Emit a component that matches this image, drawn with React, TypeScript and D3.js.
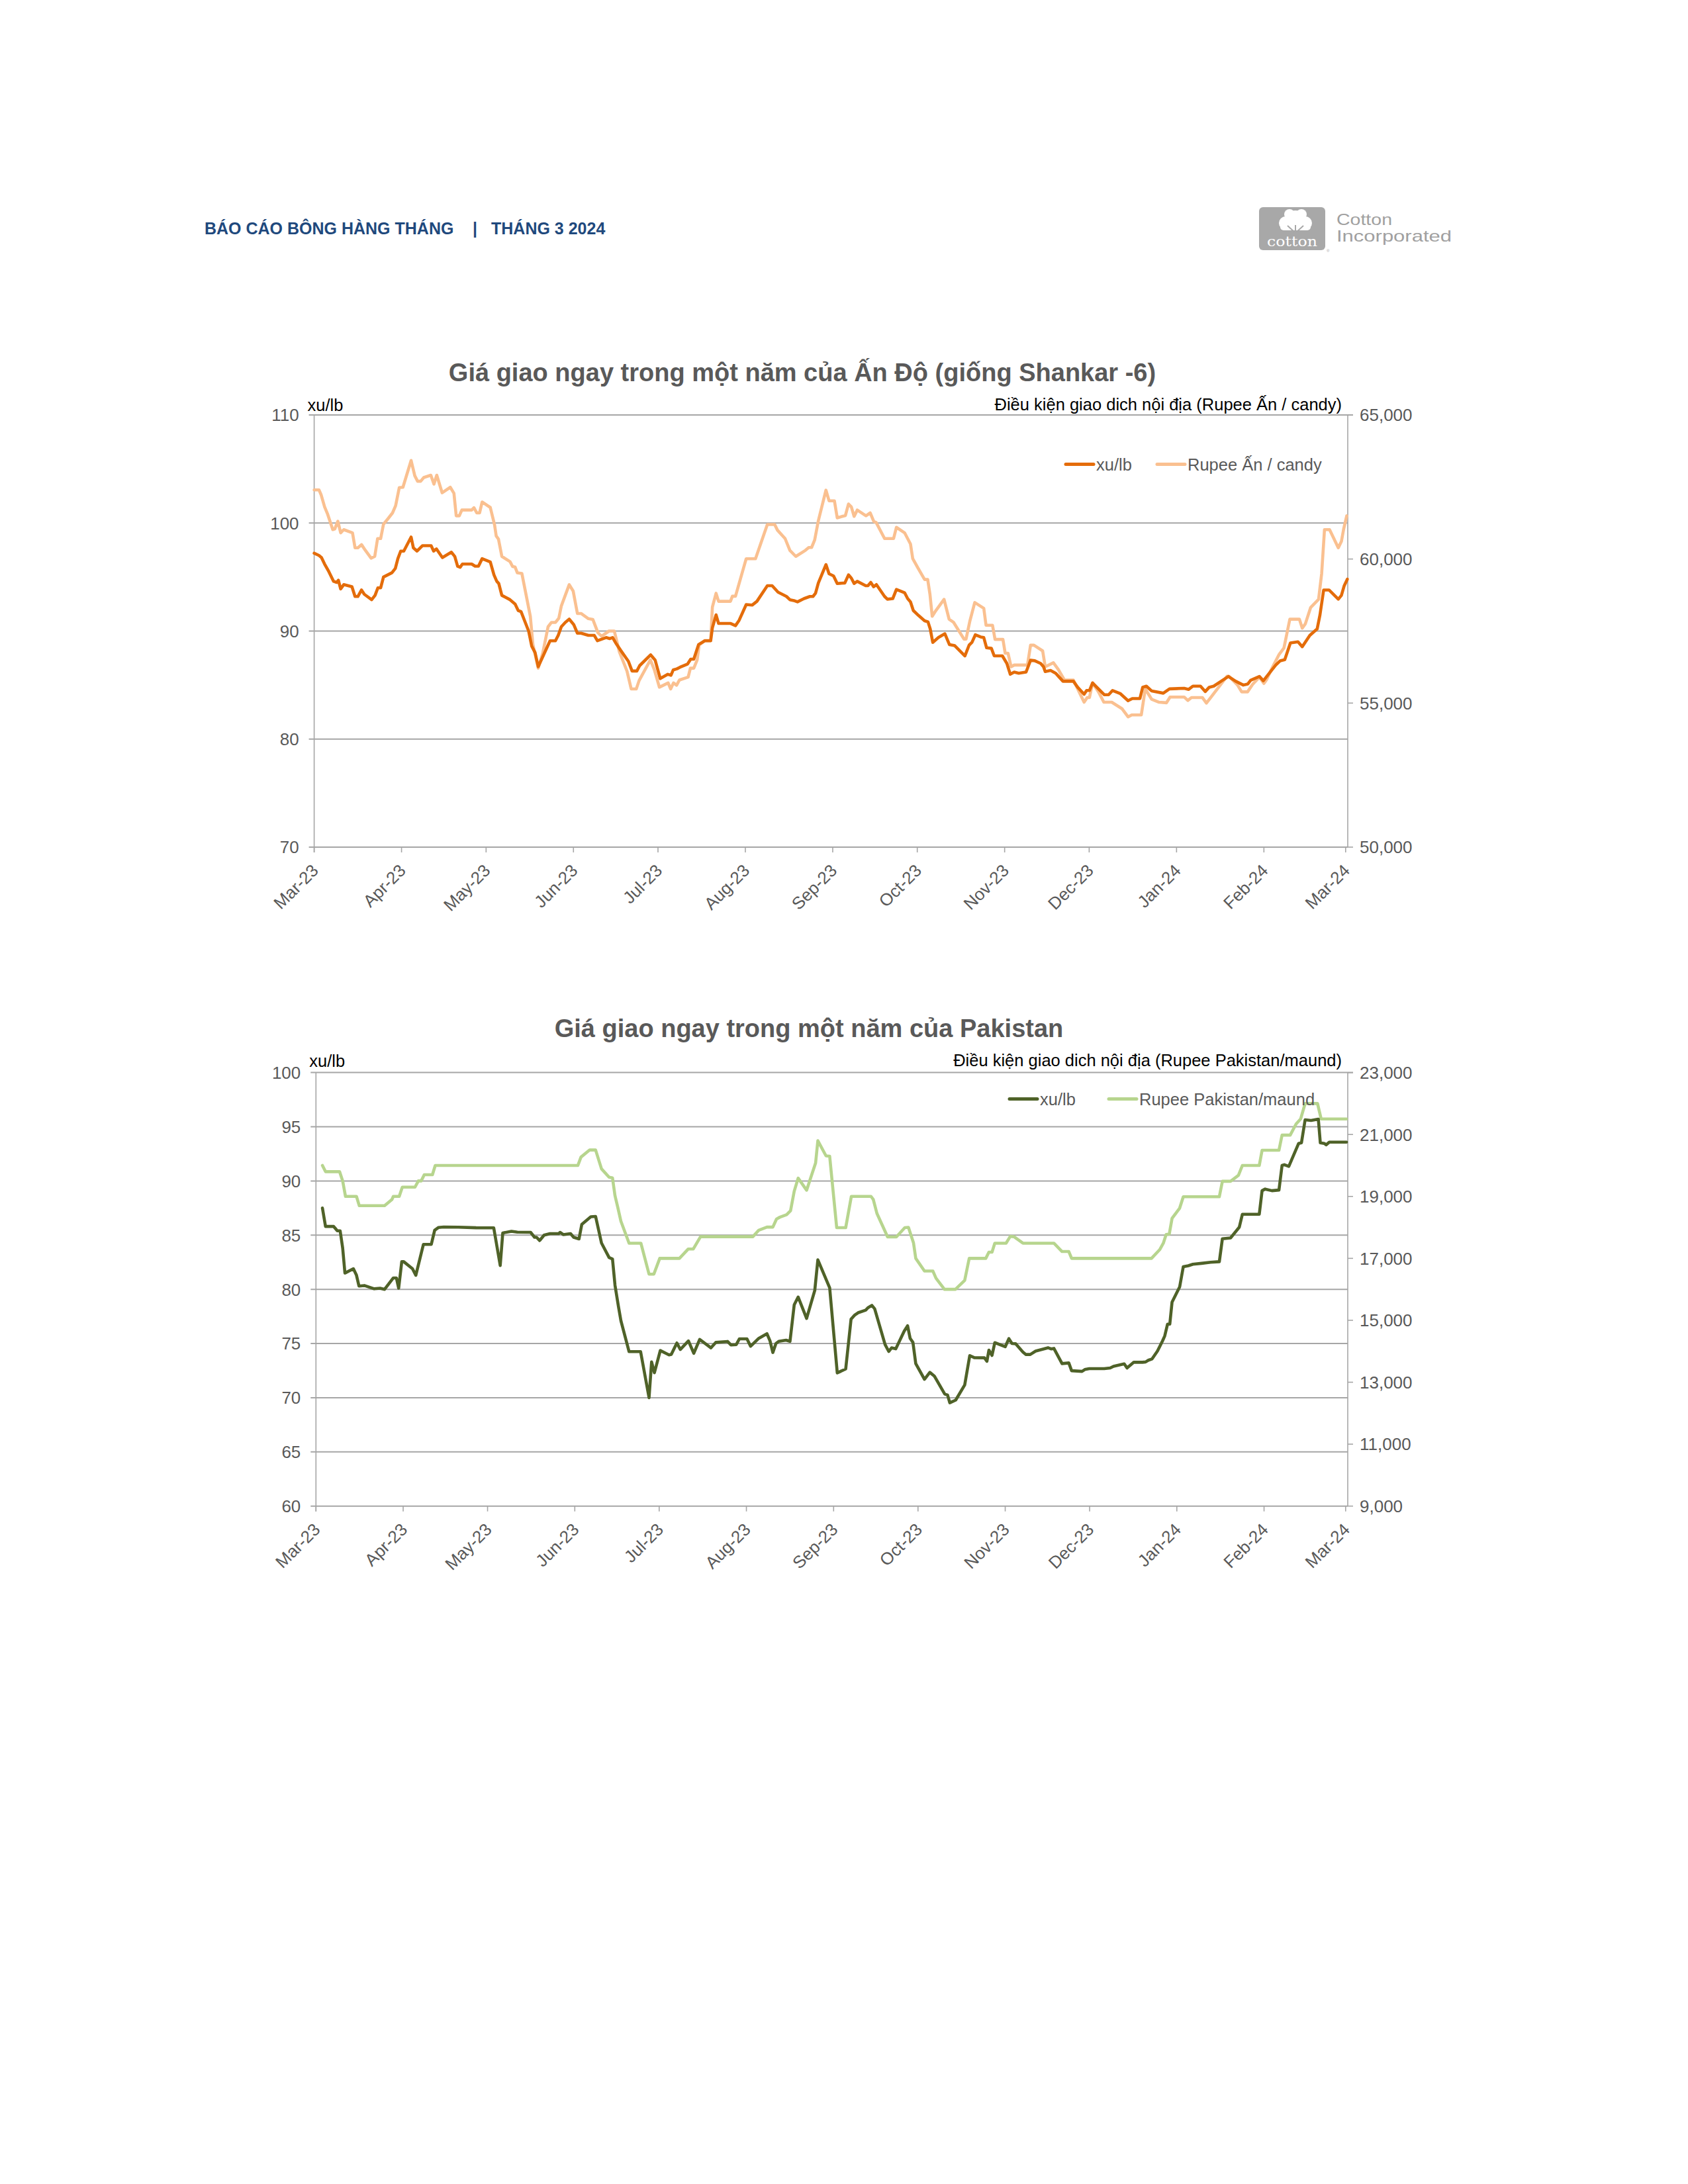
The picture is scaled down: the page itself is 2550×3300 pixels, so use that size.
import React from "react";
import * as d3 from "d3";

// ---------- DATA ----------
const START = Date.UTC(2023, 2, 1);
const END = Date.UTC(2024, 2, 1);
const DAY = 86400000;

const headerLeft = "BÁO CÁO BÔNG HÀNG THÁNG";
const headerRight = "THÁNG 3 2024";

const indiaTitle = "Giá giao ngay trong một năm của Ấn Độ (giống Shankar -6)";
const indiaRightLabel = "Điều kiện giao dich nội địa (Rupee Ấn / candy)";
const indiaLegend = ["xu/lb", "Rupee Ấn / candy"];
const indiaLeftTicks = [70, 80, 90, 100, 110];
const indiaRightTicks = [50000, 55000, 60000, 65000];

const pakTitle = "Giá giao ngay trong một năm của Pakistan";
const pakRightLabel = "Điều kiện giao dich nội địa (Rupee Pakistan/maund)";
const pakLegend = ["xu/lb", "Rupee Pakistan/maund"];
const pakLeftTicks = [60, 65, 70, 75, 80, 85, 90, 95, 100];
const pakRightTicks = [9000, 11000, 13000, 15000, 17000, 19000, 21000, 23000];

// [days since 1 Mar 2023, value]
const indiaCents: [number, number][] = [
  [0, 97.2], [1.7, 97.0], [2.6, 96.8], [3.7, 96.2], [5.2, 95.5], [6.9, 94.6], [8.0, 94.5], [8.6, 94.7],
  [9.4, 93.9], [10.5, 94.3], [13.4, 94.1], [14.5, 93.2], [15.5, 93.2], [16.8, 93.8], [17.8, 93.4],
  [20.4, 92.9], [21.6, 93.3], [22.6, 94.0], [23.6, 94.0], [24.6, 95.0], [27.6, 95.4], [28.8, 95.8],
  [29.7, 96.7], [30.7, 97.4], [31.8, 97.4], [34.4, 98.7], [35.2, 97.7], [36.5, 97.4], [38.4, 97.9],
  [41.5, 97.9], [42.4, 97.4], [43.4, 97.6], [45.5, 96.8], [48.7, 97.3], [49.9, 96.9], [50.9, 96.0],
  [51.8, 95.9], [52.6, 96.2], [55.9, 96.2], [57.1, 96.0], [58.3, 96.0], [59.6, 96.7], [62.5, 96.4],
  [63.8, 95.2], [64.8, 94.6], [65.5, 94.4], [66.6, 93.3], [69.5, 92.9], [71.3, 92.5], [72.4, 91.9],
  [73.4, 91.8], [76.1, 90.0], [77.2, 88.6], [78.4, 88.0], [79.5, 86.7], [81.6, 87.9], [83.7, 89.1],
  [85.6, 89.1], [86.6, 89.6], [87.7, 90.4], [89.1, 90.8], [90.5, 91.1], [92.1, 90.6], [93.4, 89.8],
  [94.7, 89.8], [97.3, 89.6], [99.4, 89.6], [100.5, 89.1], [103.6, 89.4], [104.9, 89.3], [105.9, 89.4],
  [107.0, 88.9], [108.8, 88.2], [111.5, 87.2], [112.8, 86.3], [114.5, 86.3], [115.5, 86.8],
  [119.4, 87.8], [121.0, 87.3], [122.8, 85.6], [125.5, 86.0], [126.6, 85.9], [127.4, 86.4],
  [128.7, 86.5], [129.8, 86.65], [132.5, 86.95], [133.6, 87.4], [134.7, 87.4], [136.4, 88.75],
  [138.6, 89.1], [140.7, 89.1], [141.3, 90.3], [142.6, 91.5], [143.5, 90.7], [147.8, 90.7],
  [149.5, 90.5], [150.8, 91.0], [153.3, 92.45], [155.4, 92.4], [157.1, 92.75], [160.8, 94.2],
  [162.5, 94.2], [164.6, 93.6], [167.6, 93.2], [168.8, 92.9], [170.5, 92.8], [171.5, 92.7],
  [173.8, 93.0], [175.9, 93.2], [177.0, 93.2], [177.9, 93.5], [178.9, 94.45], [181.6, 96.15],
  [182.7, 95.3], [184.3, 95.1], [185.6, 94.4], [188.3, 94.45], [189.6, 95.2], [190.6, 94.9],
  [191.6, 94.4], [192.7, 94.6], [195.7, 94.2], [196.5, 94.2], [197.5, 94.5], [198.5, 94.1],
  [199.5, 94.3], [202.4, 93.2], [203.4, 92.95], [205.3, 93.0], [206.6, 93.85], [209.5, 93.55],
  [210.6, 93.0], [211.6, 92.7], [212.6, 91.9], [214.4, 91.45], [216.6, 90.95], [217.8, 90.85],
  [218.6, 90.2], [219.5, 88.95], [221.5, 89.4], [223.8, 89.75], [225.4, 88.75], [227.3, 88.65],
  [230.9, 87.7], [232.4, 88.7], [233.4, 88.95], [234.6, 89.65], [236.5, 89.45], [237.6, 89.4],
  [238.6, 88.45], [240.3, 88.4], [241.3, 87.7], [244.2, 87.7], [245.8, 87.0], [247.0, 86.0],
  [248.4, 86.2], [250.0, 86.1], [252.6, 86.2], [254.2, 87.3], [255.7, 87.25], [257.8, 87.0],
  [258.8, 86.7], [259.4, 86.25], [261.3, 86.35], [263.1, 86.1], [265.7, 85.35], [269.4, 85.35],
  [270.9, 84.8], [273.2, 84.15], [274.1, 84.5], [275.1, 84.5], [276.2, 85.2], [277.7, 84.8],
  [280.4, 84.1], [281.9, 84.1], [283.3, 84.5], [286.1, 84.2], [288.8, 83.55], [290.3, 83.75],
  [293.0, 83.75], [294.0, 84.8], [295.3, 84.9], [297.2, 84.45], [301.3, 84.25], [303.5, 84.65],
  [308.7, 84.7], [310.3, 84.6], [311.8, 84.9], [314.5, 84.9], [316.2, 84.4], [317.6, 84.8],
  [319.2, 84.9], [321.8, 85.35], [324.4, 85.8], [327.0, 85.35], [329.7, 85.0], [331.3, 85.1],
  [332.3, 85.45], [335.4, 85.8], [336.8, 85.4], [338.6, 86.0], [341.2, 86.85], [342.8, 87.25],
  [344.4, 87.35], [346.4, 88.9], [349.1, 89.0], [350.6, 88.55], [353.3, 89.6], [355.9, 90.2],
  [356.9, 91.5], [358.2, 93.8], [360.1, 93.8], [363.4, 92.95], [364.5, 93.3], [365.5, 94.2],
  [366.6, 94.8],
];

const indiaRupee: [number, number][] = [
  [0, 62400], [1.7, 62400], [2.5, 62220], [3.7, 61810], [4.8, 61550], [6.6, 61020], [7.3, 61040],
  [8.4, 61310], [9.4, 60910], [10.5, 61020], [13.6, 60910], [14.5, 60390], [15.5, 60390],
  [16.8, 60500], [18.1, 60310], [20.2, 60030], [21.5, 60090], [22.5, 60710], [23.6, 60710],
  [24.6, 61210], [26.2, 61400], [27.8, 61600], [28.9, 61850], [30.2, 62480], [31.5, 62490],
  [34.4, 63420], [35.7, 62890], [36.7, 62700], [37.8, 62700], [38.9, 62830], [41.4, 62910],
  [42.5, 62600], [43.5, 62910], [45.4, 62300], [48.3, 62490], [49.6, 62280], [50.4, 61500],
  [51.5, 61500], [52.4, 61700], [55.9, 61700], [56.7, 61780], [57.7, 61600], [58.7, 61600],
  [59.6, 61980], [62.5, 61790], [64.0, 61190], [64.6, 60800], [65.4, 60690], [66.6, 60090],
  [69.5, 59910], [70.4, 59740], [71.3, 59720], [72.1, 59520], [73.7, 59500], [76.7, 58010],
  [77.6, 57040], [79.5, 56210], [81.1, 56730], [83.0, 57650], [84.2, 57800], [85.6, 57800],
  [86.8, 57940], [87.7, 58370], [90.5, 59110], [91.9, 58890], [93.4, 58110], [94.7, 58110],
  [97.3, 57930], [98.9, 57900], [100.7, 57440], [102.0, 57320], [104.6, 57500], [106.5, 57500],
  [108.3, 56780], [111.0, 56110], [112.5, 55490], [114.3, 55490], [115.3, 55780], [119.3, 56500],
  [120.7, 56160], [122.5, 55550], [125.6, 55700], [126.5, 55490], [127.5, 55700], [128.6, 55620],
  [129.6, 55800], [132.7, 55900], [133.5, 56210], [134.7, 56210], [135.9, 56500], [136.6, 57010],
  [138.6, 57170], [140.7, 57170], [141.3, 58330], [142.6, 58810], [143.5, 58530], [147.7, 58530],
  [148.4, 58710], [149.5, 58710], [153.3, 60010], [156.6, 60010], [160.8, 61200], [163.4, 61200],
  [164.4, 61000], [167.1, 60710], [168.8, 60300], [170.9, 60090], [174.3, 60300], [175.5, 60400],
  [176.5, 60400], [177.6, 60660], [178.9, 61330], [181.6, 62390], [182.7, 62020], [184.6, 62020],
  [185.6, 61430], [188.5, 61510], [189.6, 61910], [190.6, 61810], [191.6, 61480], [192.7, 61700],
  [195.8, 61500], [197.3, 61600], [198.6, 61300], [199.4, 61270], [202.4, 60710], [205.6, 60710],
  [206.6, 61100], [209.5, 60910], [211.6, 60520], [212.4, 60010], [214.3, 59680], [216.6, 59290],
  [217.7, 59290], [218.5, 58780], [219.3, 58010], [220.6, 58210], [223.5, 58600], [225.3, 57910],
  [226.9, 57800], [230.6, 57220], [231.3, 57220], [232.7, 57860], [234.4, 58490], [237.6, 58290],
  [238.4, 57700], [240.7, 57700], [241.6, 57210], [244.4, 57210], [245.2, 56730], [246.2, 56730],
  [247.3, 56260], [248.4, 56320], [253.1, 56320], [254.2, 57010], [255.4, 57010], [258.5, 56810],
  [259.4, 56260], [262.3, 56400], [264.1, 56160], [266.2, 55800], [269.4, 55800], [273.2, 55030],
  [274.3, 55190], [275.1, 55190], [276.2, 55700], [278.3, 55390], [280.2, 55030], [283.0, 55030],
  [286.7, 54800], [288.8, 54520], [290.1, 54590], [293.5, 54590], [294.9, 55490], [297.2, 55130],
  [299.8, 55030], [302.4, 55010], [303.7, 55210], [308.7, 55210], [310.0, 55090], [311.3, 55190],
  [315.2, 55190], [316.6, 55000], [318.1, 55190], [322.1, 55700], [323.9, 55930], [324.6, 55930],
  [327.6, 55630], [329.1, 55390], [331.2, 55390], [333.0, 55650], [335.4, 55900], [337.0, 55680],
  [338.0, 55820], [339.6, 56160], [342.4, 56690], [344.1, 56910], [346.2, 57910], [349.6, 57910],
  [350.6, 57600], [351.7, 57750], [353.6, 58320], [356.4, 58600], [357.5, 59500], [358.5, 61020],
  [360.3, 61020], [363.4, 60390], [364.5, 60610], [365.3, 61040], [366.4, 61500],
];

const pakCents: [number, number][] = [
  [2.3, 87.5], [3.4, 85.8], [6.3, 85.8], [7.6, 85.4], [8.6, 85.4], [9.5, 83.8], [10.3, 81.5],
  [13.3, 81.9], [14.4, 81.3], [15.3, 80.3], [17.2, 80.35], [20.7, 80.05], [22.8, 80.1], [24.4, 80.0],
  [27.5, 81.05], [28.6, 81.05], [29.4, 80.1], [30.5, 82.55], [31.2, 82.55], [34.3, 81.9], [35.5, 81.3],
  [38.2, 84.15], [41.0, 84.15], [42.2, 85.45], [43.5, 85.7], [45.4, 85.75], [50.6, 85.73],
  [56.9, 85.68], [63.2, 85.67], [65.5, 82.2], [66.4, 85.2], [69.5, 85.35], [71.6, 85.28],
  [76.3, 85.26], [77.7, 84.8], [78.4, 84.8], [79.5, 84.5], [81.1, 85.0], [83.2, 85.14], [86.3, 85.14],
  [86.8, 85.26], [87.9, 85.05], [90.5, 85.14], [91.6, 84.8], [93.5, 84.65], [94.5, 86.0], [97.7, 86.7],
  [99.4, 86.73], [101.5, 84.27], [104.2, 82.93], [105.4, 82.8], [106.3, 80.37], [107.5, 78.44],
  [108.4, 77.1], [111.3, 74.25], [115.4, 74.25], [118.4, 70.0], [119.3, 73.3], [120.3, 72.3],
  [122.4, 74.35], [125.5, 73.95], [126.3, 74.0], [128.3, 75.05], [129.5, 74.45], [132.4, 75.24],
  [134.3, 74.1], [136.4, 75.38], [140.4, 74.6], [142.1, 75.1], [146.3, 75.19], [147.5, 74.87],
  [149.4, 74.9], [150.5, 75.43], [153.2, 75.43], [154.5, 74.75], [157.4, 75.48], [160.3, 75.91],
  [161.4, 75.24], [162.4, 74.17], [163.5, 75.0], [164.5, 75.2], [167.1, 75.31], [168.5, 75.2],
  [170.0, 78.57], [171.4, 79.29], [174.4, 77.31], [177.3, 79.89], [178.4, 82.72], [182.6, 80.14],
  [185.3, 72.29], [188.3, 72.65], [190.2, 77.24], [191.4, 77.6], [192.7, 77.84], [195.4, 78.08],
  [196.2, 78.3], [197.6, 78.52], [198.6, 78.2], [202.3, 74.9], [203.6, 74.27], [204.6, 74.6],
  [206.1, 74.51], [209.1, 76.15], [210.3, 76.64], [211.2, 75.48], [212.2, 75.1], [213.2, 73.15],
  [216.3, 71.7], [218.2, 72.34], [219.8, 72.0], [223.5, 70.34], [224.5, 70.25], [225.3, 69.53],
  [227.4, 69.78], [230.6, 71.18], [232.4, 73.89], [234.0, 73.7], [237.6, 73.68], [238.5, 73.36],
  [239.2, 74.39], [240.3, 73.9], [241.3, 75.08], [245.0, 74.7], [246.3, 75.45], [247.4, 75.0],
  [248.7, 74.98], [251.3, 74.21], [252.3, 73.99], [253.9, 73.99], [255.8, 74.3], [260.2, 74.61],
  [261.3, 74.5], [262.3, 74.55], [265.2, 73.15], [267.6, 73.21], [268.6, 72.49], [272.3, 72.43],
  [273.3, 72.6], [274.9, 72.68], [280.2, 72.68], [282.3, 72.74], [283.5, 72.9], [287.3, 73.12],
  [288.3, 72.74], [290.7, 73.27], [293.8, 73.27], [294.9, 73.3], [295.9, 73.46], [297.2, 73.58],
  [299.1, 74.3], [300.9, 75.23], [301.7, 75.7], [302.7, 76.79], [303.5, 76.79], [304.3, 78.82],
  [307.0, 80.22], [308.3, 82.09], [310.1, 82.18], [311.7, 82.31], [314.8, 82.4], [318.0, 82.5],
  [321.1, 82.55], [322.2, 84.67], [325.1, 84.74], [328.2, 85.73], [329.3, 86.92], [335.3, 86.92],
  [336.3, 89.1], [337.4, 89.25], [339.8, 89.1], [342.3, 89.16], [343.4, 91.43], [344.2, 91.5],
  [345.8, 91.34], [349.3, 93.46], [350.3, 93.52], [351.6, 95.64], [353.7, 95.58], [356.3, 95.7],
  [357.0, 93.52], [358.4, 93.46], [359.1, 93.33], [360.2, 93.58], [366.3, 93.58],
];

const pakRupee: [number, number][] = [
  [2.3, 20000], [3.4, 19800], [8.4, 19800], [9.5, 19500], [10.5, 19000], [14.4, 19000], [15.4, 18700],
  [24.4, 18700], [27.0, 18900], [27.5, 19000], [29.6, 19000], [30.7, 19300], [35.2, 19300],
  [36.4, 19500], [37.4, 19500], [38.5, 19700], [41.4, 19700], [42.4, 20000], [93.1, 20000],
  [94.2, 20270], [97.3, 20500], [99.4, 20500], [101.5, 19890], [104.2, 19620], [105.4, 19600],
  [106.3, 19020], [107.3, 18640], [108.4, 18200], [111.3, 17490], [115.5, 17490], [118.4, 16490],
  [120.1, 16490], [122.2, 17000], [129.2, 17000], [132.3, 17300], [134.1, 17300], [136.7, 17700],
  [155.3, 17700], [157.4, 17910], [160.3, 18010], [162.4, 18010], [163.7, 18270], [164.9, 18330],
  [167.3, 18410], [168.7, 18540], [170.0, 19170], [171.4, 19590], [174.4, 19200], [177.6, 20080],
  [178.4, 20800], [181.3, 20310], [182.6, 20300], [185.1, 17990], [188.3, 17990], [190.3, 19000],
  [197.3, 19000], [198.1, 18900], [199.4, 18450], [203.2, 17690], [206.3, 17690], [209.3, 17990],
  [210.6, 18000], [212.4, 17500], [213.2, 17000], [216.3, 16590], [219.3, 16590], [220.4, 16360],
  [223.4, 16000], [227.3, 16000], [230.6, 16290], [232.2, 17000], [238.1, 17000], [239.2, 17200],
  [240.3, 17200], [241.3, 17490], [245.3, 17490], [246.8, 17710], [248.1, 17700], [251.3, 17490],
  [262.3, 17490], [265.2, 17220], [267.6, 17220], [268.6, 17000], [297.0, 17000], [299.9, 17280],
  [301.2, 17490], [302.2, 17770], [303.3, 17780], [304.3, 18290], [307.0, 18620], [308.3, 18990],
  [321.1, 18990], [322.2, 19490], [325.1, 19490], [327.9, 19680], [329.3, 20000], [335.3, 20000],
  [336.3, 20490], [342.3, 20490], [343.4, 20980], [346.3, 20980], [348.4, 21340], [350.0, 21500],
  [351.6, 22000], [356.0, 22000], [357.3, 21500], [366.3, 21500],
];

// ---------- STYLE ----------
const FONT = "'Liberation Sans', Arial, Helvetica, sans-serif";
const GRID = "#A6A6A6";
const TXT = "#595959";

type ChartProps = {
  left: number; right: number; xEnd: number; top: number; bottom: number;
  leftDomain: [number, number]; leftTicks: number[];
  rightDomain: [number, number]; rightTicks: number[];
  title: string; titleX: number; titleY: number;
  rightLabel: string; unitY: number;
  legend: string[]; legendY: number; legendX: number[];
  darkColor: string; lightColor: string;
  cents: [number, number][]; rupee: [number, number][];
};

const toDate = (d: number) => new Date(START + d * DAY);

function Chart(p: ChartProps) {
  const x = d3.scaleUtc().domain([new Date(START), new Date(END)]).range([p.left, p.xEnd]);
  const yL = d3.scaleLinear().domain(p.leftDomain).range([p.bottom, p.top]);
  const yR = d3.scaleLinear().domain(p.rightDomain).range([p.bottom, p.top]);
  const months = d3.utcMonth.range(new Date(START), new Date(END + DAY));
  const fmtM = d3.utcFormat("%b-%y");
  const fmtR = d3.format(",");
  const lineL = d3.line<[number, number]>().x((d) => x(toDate(d[0]))).y((d) => yL(d[1]));
  const lineR = d3.line<[number, number]>().x((d) => x(toDate(d[0]))).y((d) => yR(d[1]));
  return (
    <g fontFamily={FONT}>
      <text x={p.titleX} y={p.titleY} textAnchor="middle" fontSize={38} fontWeight="bold" fill={TXT}>{p.title}</text>
      <text x={p.left - 10} y={p.unitY} fontSize={25.5} fill="#000">{p.legend[0]}</text>
      <text x={2027} y={p.unitY - 1} textAnchor="end" fontSize={25.5} fill="#000">{p.rightLabel}</text>
      {/* gridlines */}
      {p.leftTicks.map((t) => (
        <line key={"g" + t} x1={p.left - 8} x2={p.right} y1={yL(t)} y2={yL(t)} stroke={GRID} strokeWidth={2} />
      ))}
      <line x1={p.right} x2={p.right + 8} y1={p.top} y2={p.top} stroke={GRID} strokeWidth={2} />
      {/* axes */}
      <line x1={p.left} x2={p.left} y1={p.top} y2={p.bottom + 8} stroke={GRID} strokeWidth={1.6} />
      <line x1={p.right} x2={p.right} y1={p.top} y2={p.bottom} stroke={GRID} strokeWidth={1.6} />
      {p.rightTicks.map((t) => (
        <line key={"rt" + t} x1={p.right} x2={p.right + 8} y1={yR(t)} y2={yR(t)} stroke={GRID} strokeWidth={1.6} />
      ))}
      {months.map((m, i) => (
        <line key={"xt" + i} x1={x(m)} x2={x(m)} y1={p.bottom} y2={p.bottom + 8} stroke={GRID} strokeWidth={1.6} />
      ))}
      {/* tick labels */}
      {p.leftTicks.map((t) => (
        <text key={"lt" + t} x={p.left - 23} y={yL(t)} dy="0.36em" textAnchor="end" fontSize={26} fill={TXT}>{t}</text>
      ))}
      {p.rightTicks.map((t) => (
        <text key={"rl" + t} x={p.right + 18} y={yR(t)} dy="0.36em" textAnchor="start" fontSize={26} fill={TXT}>{fmtR(t)}</text>
      ))}
      {months.map((m, i) => (
        <text key={"xl" + i} transform={`translate(${x(m) + 8},${p.bottom + 37}) rotate(-45)`} textAnchor="end" fontSize={26} fill={TXT}>{fmtM(m)}</text>
      ))}
      {/* series */}
      <path d={lineR(p.rupee) || ""} fill="none" stroke={p.lightColor} strokeWidth={4.6} strokeLinejoin="round" strokeLinecap="round" />
      <path d={lineL(p.cents) || ""} fill="none" stroke={p.darkColor} strokeWidth={4.6} strokeLinejoin="round" strokeLinecap="round" />
      {/* legend */}
      <line x1={p.legendX[0]} x2={p.legendX[0] + 42} y1={p.legendY} y2={p.legendY} stroke={p.darkColor} strokeWidth={5} strokeLinecap="round" />
      <text x={p.legendX[0] + 46} y={p.legendY} dy="0.36em" fontSize={25.5} fill={TXT}>{p.legend[0]}</text>
      <line x1={p.legendX[1]} x2={p.legendX[1] + 42} y1={p.legendY} y2={p.legendY} stroke={p.lightColor} strokeWidth={5} strokeLinecap="round" />
      <text x={p.legendX[1] + 46} y={p.legendY} dy="0.36em" fontSize={25.5} fill={TXT}>{p.legend[1]}</text>
    </g>
  );
}

function Logo() {
  return (
    <g>
      <rect x={1902} y={313} width={100} height={65} rx={6} fill="#A8A8A8" />
      <g fill="#FFFFFF">
        <circle cx={1957} cy={331} r={13} />
        <circle cx={1942} cy={337} r={10} />
        <circle cx={1972} cy={337} r={10} />
        <circle cx={1948} cy={324} r={8} />
        <circle cx={1966} cy={324} r={8} />
        <rect x={1934} y={336} width={46} height={12} rx={5} />
      </g>
      <g stroke="#A8A8A8" strokeWidth={2} fill="none">
        <path d="M1945,341 L1957,352 L1969,341" />
        <line x1={1957} y1={340} x2={1957} y2={352} />
      </g>
      <text x={1952} y={372} textAnchor="middle" fontFamily="'DejaVu Serif', 'Liberation Serif', serif" fontSize={21} fill="#FFFFFF" textLength={76} lengthAdjust="spacingAndGlyphs">cotton</text>
      <text x={2004} y={381} fontFamily={FONT} fontSize={6} fill="#A8A8A8">®</text>
      <text x={2019} y={340} fontFamily={FONT} fontSize={24} fill="#A0A0A0" textLength={84} lengthAdjust="spacingAndGlyphs">Cotton</text>
      <text x={2019} y={365} fontFamily={FONT} fontSize={24} fill="#A0A0A0" textLength={174} lengthAdjust="spacingAndGlyphs">Incorporated</text>
    </g>
  );
}

export default function App() {
  return (
    <svg width={2550} height={3300} viewBox="0 0 2550 3300" style={{ position: "absolute", left: 0, top: 0, background: "#fff" }}>
      <rect x={0} y={0} width={2550} height={3300} fill="#fff" />
      <g fontFamily={FONT} fontWeight="bold" fontSize={25} fill="#1F497D">
        <text x={309} y={354}>{headerLeft}</text>
        <text x={717.5} y={354} textAnchor="middle">|</text>
        <text x={742} y={354}>{headerRight}</text>
      </g>
      <Logo />
      <Chart
        left={474.6} right={2036} xEnd={2032.8} top={627} bottom={1280}
        leftDomain={[70, 110]} leftTicks={indiaLeftTicks}
        rightDomain={[50000, 65000]} rightTicks={indiaRightTicks}
        title={indiaTitle} titleX={1212} titleY={576}
        rightLabel={indiaRightLabel} unitY={621}
        legend={indiaLegend} legendY={701.6} legendX={[1610, 1748]}
        darkColor="#E46C0A" lightColor="#FAC090"
        cents={indiaCents} rupee={indiaRupee}
      />
      <Chart
        left={477.3} right={2036} xEnd={2032.8} top={1620.6} bottom={2275.7}
        leftDomain={[60, 100]} leftTicks={pakLeftTicks}
        rightDomain={[9000, 23000]} rightTicks={pakRightTicks}
        title={pakTitle} titleX={1222} titleY={1567}
        rightLabel={pakRightLabel} unitY={1612}
        legend={pakLegend} legendY={1660.4} legendX={[1525, 1675]}
        darkColor="#4F6228" lightColor="#B7D58E"
        cents={pakCents} rupee={pakRupee}
      />
    </svg>
  );
}
